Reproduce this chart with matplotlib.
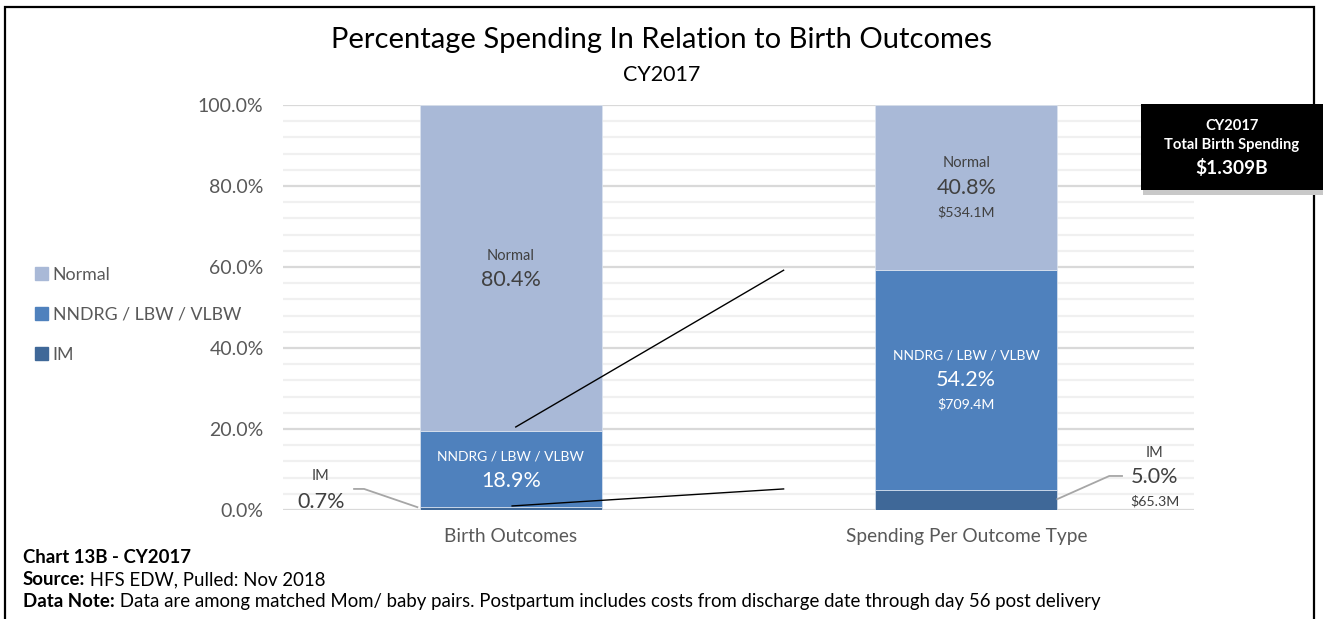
import numpy as np
import matplotlib.pyplot as plt
from matplotlib.patches import Rectangle, Patch

plt.rcParams['font.family'] = ['Lato', 'DejaVu Sans']

# ---------------- data ----------------
categories = ['Birth Outcomes', 'Spending Per Outcome Type']
segments = ['IM', 'NNDRG / LBW / VLBW', 'Normal']
im_pct = [0.7, 5.0]
nndrg_pct = [18.9, 54.2]
normal_pct = [80.4, 40.8]
spend_dollars = ['$65.3M', '$709.4M', '$534.1M']   # IM, NNDRG, Normal (spending bar)
total_spending = '$1.309B'
y_ticks = [0, 20, 40, 60, 80, 100]

colors = {'IM': '#3F6898', 'NNDRG / LBW / VLBW': '#4F81BD', 'Normal': '#A9B9D7'}
gray_txt = '#595959'
dark_txt = '#404040'

W, H = 1323, 619
fig = plt.figure(figsize=(W / 100, H / 100), dpi=100)


def fx(px):
    return px / W


def fy(py):
    return 1 - py / H


ax = fig.add_axes([fx(283), fy(510), fx(1194) - fx(283), fy(105) - fy(510)])

x = np.arange(len(categories))
bw = 0.4
series = [im_pct, nndrg_pct, normal_pct]
bottom = np.zeros(len(categories))
for name, vals in zip(segments, series):
    ax.bar(x, vals, bw, bottom=bottom, color=colors[name],
           edgecolor='#DDE5F0', linewidth=0.5, zorder=3)
    bottom = bottom + np.array(vals)

ax.set_xlim(-0.5, 1.5)
ax.set_ylim(0, 100)
ax.set_yticks(y_ticks)
ax.set_yticklabels([f'{v:.1f}%' for v in y_ticks], fontsize=14, color=gray_txt)
ax.set_yticks(np.arange(0, 101, 4), minor=True)
ax.tick_params(axis='y', which='both', length=0, pad=14)
ax.set_xticks(x)
ax.set_xticklabels(categories, fontsize=13.8, color=gray_txt)
ax.tick_params(axis='x', length=0, pad=13)
ax.grid(axis='y', which='major', color='#D9D9D9', linewidth=1.6, zorder=0)
ax.grid(axis='y', which='minor', color='#F0F0F0', linewidth=1.6, zorder=0)
for s in ax.spines.values():
    s.set_visible(False)

# ---------------- data labels inside bars ----------------
im_arr = np.array(im_pct)
nn_arr = np.array(nndrg_pct)
no_arr = np.array(normal_pct)
nn_mid = im_arr + nn_arr / 2
no_mid = im_arr + nn_arr + no_arr / 2


def stacked_label(xc, yc, lines, color):
    # lines: list of (text, size); centred as a block on (xc, yc)
    step = 17.5
    n = len(lines)
    for i, (t, sz) in enumerate(lines):
        off = (n - 1) / 2 * step - i * step
        ax.annotate(t, (xc, yc), xytext=(0, off), textcoords='offset points',
                    ha='center', va='center', fontsize=sz, color=color, zorder=5)


stacked_label(0, no_mid[0], [('Normal', 10.5), (f'{normal_pct[0]:.1f}%', 15.5)], dark_txt)
stacked_label(0, nn_mid[0], [(segments[1], 10), (f'{nndrg_pct[0]:.1f}%', 15.5)], 'white')
stacked_label(1, no_mid[1], [('Normal', 10.5), (f'{normal_pct[1]:.1f}%', 15.5),
                             (spend_dollars[2], 10.2)], dark_txt)
stacked_label(1, nn_mid[1], [(segments[1], 10), (f'{nndrg_pct[1]:.1f}%', 15.5),
                             (spend_dollars[1], 10.2)], 'white')

# ---------------- IM call-outs ----------------
ax.plot([-bw / 2 - 0.005, -0.322, -0.344], [im_pct[0], 5.2, 5.2],
        color='#A6A6A6', linewidth=1.3, zorder=4, clip_on=False)
ax.text(-0.417, 8.4, 'IM', ha='center', va='center', fontsize=10.5, color=dark_txt)
ax.text(-0.417, 2.0, f'{im_pct[0]:.1f}%', ha='center', va='center', fontsize=15.5, color=dark_txt)

ax.plot([1 + bw / 2, 1.314, 1.342], [im_pct[1] / 2 + 0.2, 8.4, 8.4],
        color='#A6A6A6', linewidth=1.3, zorder=4, clip_on=False)
ax.text(1.414, 14.1, 'IM', ha='center', va='center', fontsize=10.5, color=dark_txt)
ax.text(1.414, 8.1, f'{im_pct[1]:.1f}%', ha='center', va='center', fontsize=15.5, color=dark_txt)
ax.text(1.414, 2.2, spend_dollars[0], ha='center', va='center', fontsize=10.2, color=dark_txt,
        clip_on=False)

# ---------------- connector lines between bars ----------------
left_tops = [im_pct[0], im_pct[0] + nndrg_pct[0]]
right_tops = [im_pct[1], im_pct[1] + nndrg_pct[1]]
ax.plot([0.003, 0.599], [left_tops[0] + 0.3, right_tops[0] + 0.2], color='black', linewidth=1, zorder=6)
ax.plot([0.011, 0.599], [left_tops[1] + 0.9, right_tops[1]], color='black', linewidth=1, zorder=6)

# ---------------- legend ----------------
handles = [Patch(color=colors[n]) for n in segments[::-1]]
fig.legend(handles, segments[::-1], loc='upper left', bbox_to_anchor=(fx(26), fy(258)),
           frameon=False, fontsize=12.8, handlelength=0.75, handleheight=0.75,
           handletextpad=0.25, labelspacing=1.35, labelcolor=gray_txt, borderpad=0)

# ---------------- titles ----------------
fig.text(0.5, fy(48), 'Percentage Spending In Relation to Birth Outcomes', ha='center',
         va='baseline', fontsize=21, color='black')
fig.text(0.5, fy(81), 'CY2017', ha='center', va='baseline', fontsize=15.5, color='black')

# ---------------- total spending box ----------------
fig.patches.append(Rectangle((fx(1143), fy(195)), fx(185), fy(108) - fy(195),
                             transform=fig.transFigure, facecolor='#C8C8C8', edgecolor='none',
                             zorder=11))
fig.patches.append(Rectangle((fx(1141), fy(190)), fx(185), fy(104) - fy(190),
                             transform=fig.transFigure, facecolor='black', edgecolor='none',
                             zorder=12))
for t, yy, sz in [('CY2017', 126, 10.6), ('Total Birth Spending', 145, 10.6),
                  (total_spending, 168, 13.8)]:
    fig.text(fx(1232), fy(yy), t, ha='center', va='center', fontsize=sz,
             fontweight='bold', color='white', zorder=13)

# ---------------- footer ----------------
foot_size = 13.4
fig.text(fx(23), fy(563), 'Chart 13B - CY2017', ha='left', va='baseline', fontsize=foot_size,
         fontweight='bold', color='black')
for bold, rest, yy in [('Source:', ' HFS EDW, Pulled: Nov 2018', 585),
                       ('Data Note:', ' Data are among matched Mom/ baby pairs. Postpartum '
                        'includes costs from discharge date through day 56 post delivery', 607)]:
    b = fig.text(fx(23), fy(yy), bold, ha='left', va='baseline', fontsize=foot_size,
                 fontweight='bold', color='black')
    ax.annotate(rest, xy=(1, 0), xycoords=b, ha='left', va='bottom',
                fontsize=foot_size, color='black', annotation_clip=False)

# outer frame (bottom edge sits just outside the picture)
fig.patches.append(Rectangle((fx(5), fy(621)), fx(1309), fy(7) - fy(621),
                             transform=fig.transFigure, fill=False, edgecolor='black',
                             linewidth=1.6, zorder=10))

fig.savefig('out.png', dpi=100)
